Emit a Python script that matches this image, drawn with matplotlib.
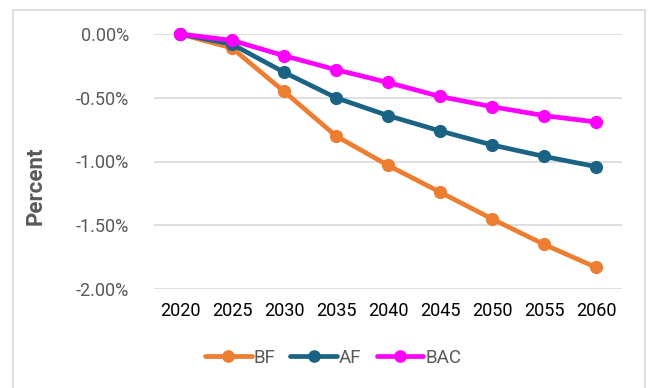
import matplotlib.pyplot as plt
from matplotlib.patches import Rectangle
from matplotlib.ticker import FuncFormatter

years = [2020, 2025, 2030, 2035, 2040, 2045, 2050, 2055, 2060]
bf = [0.0, -0.11, -0.45, -0.80, -1.03, -1.24, -1.45, -1.65, -1.83]
af = [0.0, -0.08, -0.30, -0.50, -0.64, -0.76, -0.87, -0.96, -1.04]
bac = [0.0, -0.05, -0.17, -0.28, -0.38, -0.49, -0.57, -0.64, -0.69]

ORANGE = "#ED7D31"
TEAL = "#1B6384"
PINK = "#FF00FF"
GRID = "#D9D9D9"

plt.rcParams["font.family"] = ["Roboto", "DejaVu Sans"]

fig = plt.figure(figsize=(6.49, 3.88), dpi=100)
ax = fig.add_axes([154 / 649, 1 - 289 / 388, 468 / 649, 255 / 388])

# outer chart border
fig.patches.append(Rectangle((13 / 649, -0.05), 632 / 649, 1 - 10 / 388 + 0.05,
                             transform=fig.transFigure, fill=False,
                             edgecolor=GRID, linewidth=1.2))

x = range(len(years))
for vals, col, name in [(bf, ORANGE, "BF"), (af, TEAL, "AF"), (bac, PINK, "BAC")]:
    ax.plot(x, vals, color=col, lw=3.4, marker="o", ms=8.5, label=name,
            solid_capstyle="round", clip_on=False)

ax.set_xlim(-0.5, len(years) - 0.5)
ax.set_ylim(-2.0, 0.0)
ax.set_yticks([0.0, -0.5, -1.0, -1.5, -2.0])
ax.yaxis.set_major_formatter(FuncFormatter(lambda v, p: f"{v:.2f}%"))
ax.set_xticks(list(x))
ax.set_xticklabels([str(y) for y in years])
ax.grid(axis="y", color=GRID, lw=1.2)
ax.set_axisbelow(True)
for s in ax.spines.values():
    s.set_visible(False)
ax.tick_params(axis="both", length=0)
ax.tick_params(axis="y", labelsize=13, labelcolor="#595959", pad=18)
ax.tick_params(axis="x", labelsize=13, labelcolor="black", pad=9)

fig.text(36 / 649, 1 - 186 / 388, "Percent", rotation=90, ha="center", va="center",
         fontsize=16, fontweight="bold", color="#595959")

fig.legend(loc="center", bbox_to_anchor=(333 / 649, 1 - 358 / 388), ncol=3,
           frameon=False, fontsize=13.5, labelcolor="#595959", handlelength=2.5,
           handletextpad=0.1, columnspacing=0.8, markerscale=0.95)

fig.savefig("out.png", dpi=100)
